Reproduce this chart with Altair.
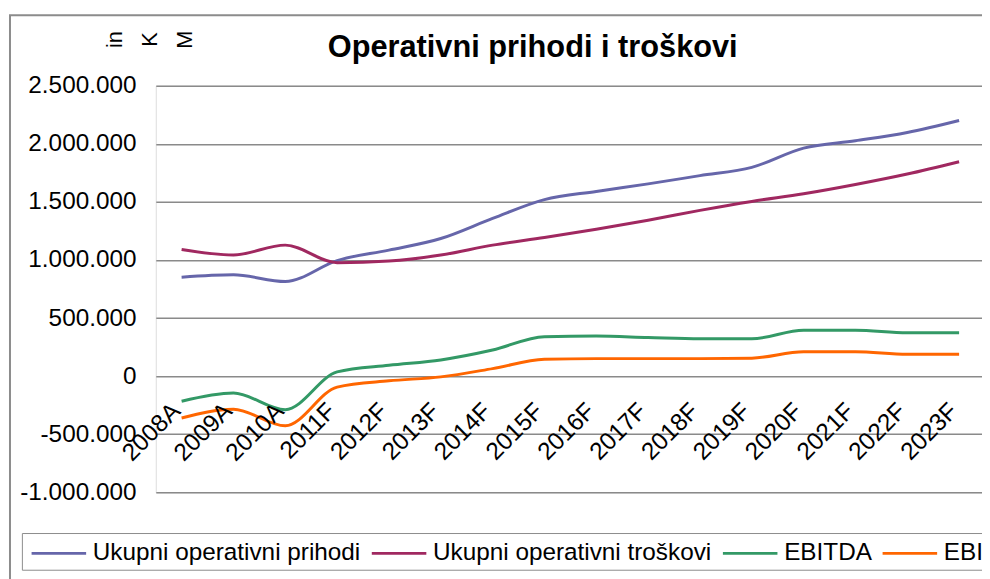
import altair as alt
import pandas as pd

# ---- data ----
categories = ["2008A", "2009A", "2010A", "2011F", "2012F", "2013F", "2014F", "2015F",
              "2016F", "2017F", "2018F", "2019F", "2020F", "2021F", "2022F", "2023F"]
series_names = ["Ukupni operativni prihodi", "Ukupni operativni troškovi", "EBITDA", "EBIT"]
prihodi = [852000, 872000, 815000, 995000, 1085000, 1185000, 1358000, 1520000,
           1590000, 1655000, 1726000, 1797000, 1963000, 2026000, 2097000, 2200000]
troskovi = [1091000, 1043000, 1128000, 977000, 991000, 1043000, 1128000, 1194000,
            1265000, 1342000, 1427000, 1504000, 1570000, 1650000, 1740000, 1846000]
ebitda = [-216000, -145000, -288000, 37000, 94000, 140000, 225000, 340000,
          345000, 333000, 322000, 322000, 395000, 395000, 373000, 373000]
ebit = [-360000, -284000, -427000, -94000, -40000, -6000, 65000, 145000,
        151000, 151000, 151000, 155000, 211000, 211000, 188000, 188000]
colors = ["#6666AA", "#A02860", "#339966", "#FF6600"]
y_ticks = [-1000000, -500000, 0, 500000, 1000000, 1500000, 2000000, 2500000]
y_title_lines = ["in", "K", "M"]
chart_title = "Operativni prihodi i troškovi"

rows = []
for name, vals in zip(series_names, [prihodi, troskovi, ebitda, ebit]):
    for c, v in zip(categories, vals):
        rows.append({"kategorija": c, "serija": name, "vrijednost": v})
df = pd.DataFrame(rows)
lab_df = pd.DataFrame({"kategorija": categories})
one = pd.DataFrame({"k": [0]})

FONT = "Liberation Sans, Arial, sans-serif"

x_scale = alt.Scale(type="point", padding=0.47, align=0.53)
y_scale = alt.Scale(domain=[-1000000, 2500000], nice=False, zero=False)

frame = alt.Chart(one).mark_rect(
    fill="transparent", stroke="#8c8c8c", strokeWidth=2
).encode(
    x=alt.value(-147), x2=alt.value(900), y=alt.value(-71), y2=alt.value(600)
)

title_mark = alt.Chart(one).mark_text(
    text=chart_title, fontSize=31, font=FONT, fontWeight="bold",
    align="center", baseline="alphabetic", color="#000000"
).encode(x=alt.value(380), y=alt.value(-29))

lines = alt.Chart(df).mark_line(strokeWidth=3, interpolate="monotone").encode(
    x=alt.X("kategorija:N", sort=categories, scale=x_scale, axis=None),
    y=alt.Y(
        "vrijednost:Q",
        scale=y_scale,
        axis=alt.Axis(
            values=y_ticks, format=",d", title=y_title_lines, titleAngle=270,
            titleX=-52, titleY=-47, titleAlign="center", titleBaseline="top",
            titleLineHeight=35.5, titleFontSize=22, titleFontWeight="normal",
            titleFont=FONT, titleColor="#000000",
            labelFontSize=24.5, labelFont=FONT, labelColor="#000000",
            labelPadding=20, ticks=False, domain=False, grid=True,
            gridColor="#8a8a8a", gridWidth=1.5,
        ),
    ),
    color=alt.Color(
        "serija:N",
        sort=series_names,
        scale=alt.Scale(domain=series_names, range=colors),
        legend=alt.Legend(
            title=None, orient="none", legendX=-135, legendY=451,
            direction="horizontal", labelFontSize=24.5, labelFont=FONT,
            labelColor="#000000", labelLimit=500, symbolType="M-0.78,0H3.22",
            symbolSize=756, symbolStrokeWidth=3, labelOffset=35.5,
            columnPadding=4, padding=5, strokeColor="#8c8c8c",
            fillColor="#FFFFFF",
        ),
    ),
)

labels = alt.Chart(lab_df).mark_text(
    angle=315, align="right", baseline="alphabetic", dx=-26, dy=26,
    fontSize=24.5, font=FONT, color="#000000"
).encode(
    x=alt.X("kategorija:N", sort=categories, scale=x_scale, axis=None),
    y=alt.datum(0, scale=y_scale),
    text="kategorija:N",
)

chart = alt.layer(frame, title_mark, lines, labels).properties(
    width=833,
    height=410,
    padding={"left": 149, "top": 76, "right": 0, "bottom": 85},
    autosize="none",
    background="#FFFFFF",
).configure_view(
    fill="#D9D9D9", stroke="#8c8c8c", strokeWidth=2
).configure(
    locale={"number": {"decimal": ",", "thousands": ".", "grouping": [3],
                       "currency": ["", ""], "minus": "-"}}
)

chart.save("out.html", embed_options={"renderer": "svg", "actions": False})
